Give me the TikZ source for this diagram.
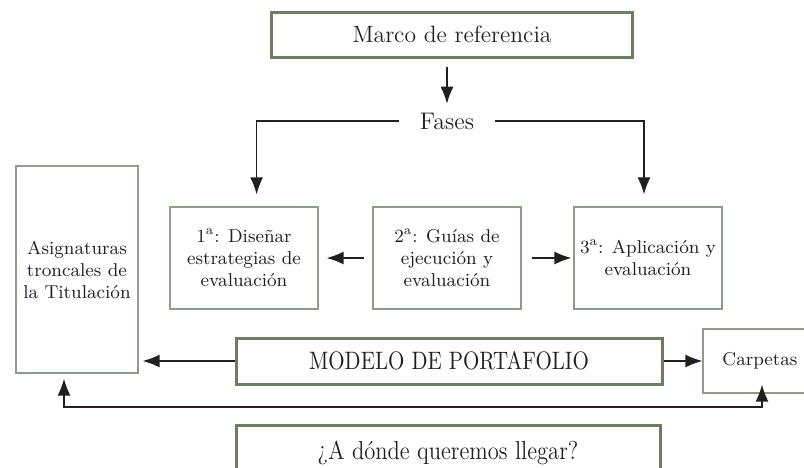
\documentclass[tikz,border=0pt]{standalone}
\usetikzlibrary{arrows.meta}
\definecolor{verde}{HTML}{6C7D64}
\definecolor{verdeclaro}{HTML}{8E9C88}
\definecolor{tinta}{HTML}{231F20}
\tikzset{
  caja/.style={draw=verdeclaro, line width=0.6pt, align=center, inner sep=0pt,
    text=tinta, font=\fontsize{9.3}{11}\selectfont},
  cajagruesa/.style={draw=verde, line width=1.5pt, align=center, inner sep=0pt, text=tinta},
  flecha/.style={-{Latex[length=8.5pt,width=6.5pt]}, line width=0.75pt, draw=tinta},
  doble/.style={{Latex[length=8.5pt,width=6.5pt]}-{Latex[length=8.5pt,width=6.5pt]}, line width=0.75pt, draw=tinta}
}
\begin{document}
\begin{tikzpicture}[x=0.5pt,y=-0.5pt]
            \useasboundingbox (0,0) rectangle (804,467);

            \node[cajagruesa, minimum width=180.5pt, minimum height=22.5pt,
                font=\fontsize{11.8}{14}\selectfont] (marco) at (452,34.5) {Marco de referencia};
            \node[text=tinta, font=\fontsize{12}{14}\selectfont, inner xsep=10.5pt, inner ysep=2pt]
                (fases) at (447,121) {Fases};

            \node[caja, minimum width=61pt, minimum height=103.5pt] (asig) at (77,269.5)
                {Asignaturas\\troncales de\\la Titulación};
            \node[caja, minimum width=74pt, minimum height=51pt] (fase1) at (244,258)
                {1\textsuperscript{a}: Diseñar\\estrategias de\\evaluación};
            \node[caja, minimum width=74pt, minimum height=51pt] (fase2) at (447,258)
                {2\textsuperscript{a}: Guías de\\ejecución y\\evaluación};
            \node[caja, minimum width=74pt, minimum height=51pt] (fase3) at (648,258)
                {3\textsuperscript{a}: Aplicación y\\evaluación};

            \node[cajagruesa, minimum width=213pt, minimum height=23pt,
                font=\fontsize{10.5}{12}\selectfont] (modelo) at (449,361)
                {\scalebox{1}[1.2]{MODELO DE PORTAFOLIO}};
            \node[caja, minimum width=57pt, minimum height=32pt] (carpetas) at (760,361) {Carpetas};
            \node[cajagruesa, minimum width=212pt, minimum height=28pt,
                font=\fontsize{11.3}{13}\selectfont] (meta) at (448,453)
                {\scalebox{1}[1.15]{¿A dónde queremos llegar?}};
            \coordinate (retorno) at (400,407);

            \draw[flecha, shorten <=4pt, shorten >=2.3pt] (marco.south -| fases) -- (fases.north);
            \draw[flecha, shorten >=6pt] (fases.west) -| ([xshift=6.3pt]fase1.north);
            \draw[flecha, shorten >=6pt] (fases.east) -| ([xshift=-2pt]fase3.north);
            \draw[flecha, shorten <=4pt, shorten >=4pt] (fase2) -- (fase1);
            \draw[flecha, shorten <=5pt, shorten >=1pt] (fase2) -- (fase3);

            \draw[flecha, shorten >=2pt] (modelo) -- (asig.east |- modelo);
            \draw[flecha] (modelo) -- (carpetas);
            \draw[doble, shorten <=2.5pt, shorten >=-4.5pt] ([xshift=-6.5pt]asig.south) |- (retorno)
                -| ([xshift=1pt]carpetas.south);
        \end{tikzpicture}
\end{document}
